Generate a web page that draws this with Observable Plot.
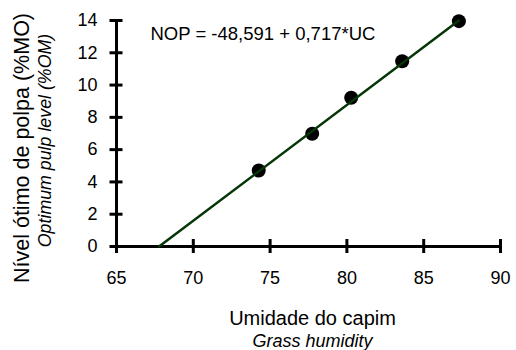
<!DOCTYPE html>
<html>
<head>
<meta charset="utf-8">
<script src="https://cdn.jsdelivr.net/npm/d3@7"></script>
<script src="https://cdn.jsdelivr.net/npm/@observablehq/plot@0.6"></script>
<style>
  html, body { margin: 0; padding: 0; background: #fff; }
  #chart svg { display: block; }
</style>
</head>
<body>
<div id="chart"></div>
<script>
// Data
const humidity = [74.26, 77.74, 80.28, 83.6, 87.29];   // Umidade do capim (%)
const pulpLevel = [4.71, 6.98, 9.21, 11.48, 13.96];    // Nível ótimo de polpa (%MO)
const intercept = -48.591;
const slope = 0.717;
const equationText = ["NOP = -48,591 + 0,717*UC"];
const xTicks = [65, 70, 75, 80, 85, 90];
const yTicks = [0, 2, 4, 6, 8, 10, 12, 14];
const xTitle = ["Umidade do capim"];
const xSubtitle = ["Grass humidity"];
const yTitle = ["Nível ótimo de polpa (%MO)"];
const ySubtitle = ["Optimum pulp level (%OM)"];

const points = humidity.map((h, i) => ({x: h, y: pulpLevel[i]}));
const xStart = -intercept / slope;
const xEnd = d3.max(humidity);
const fit = [xStart, xEnd].map(x => ({x, y: intercept + slope * x}));

const lineColor = "#063506";

const chart = Plot.plot({
  width: 516,
  height: 350,
  marginLeft: 116,
  marginRight: 16,
  marginTop: 20,
  marginBottom: 104,
  style: {fontFamily: "'Liberation Sans', Arial, sans-serif", background: "#fff", color: "#000", overflow: "visible"},
  x: {domain: [65, 90]},
  y: {domain: [0, 14]},
  marks: [
    // axis lines
    Plot.ruleY([0], {stroke: "#000", strokeWidth: 3}),
    Plot.ruleX([65], {stroke: "#000", strokeWidth: 3}),
    // crossing ticks
    Plot.ruleX(xTicks, {x: d => d, y1: 0, y2: 0, insetTop: -7, insetBottom: -7, stroke: "#000", strokeWidth: 3}),
    Plot.ruleY(yTicks, {y: d => d, x1: 65, x2: 65, insetLeft: -6.5, insetRight: -6.5, stroke: "#000", strokeWidth: 3}),
    // tick labels
    Plot.axisX(xTicks, {tickSize: 0, tickPadding: 25, fontSize: 18, label: null}),
    Plot.axisY(yTicks, {tickSize: 0, tickPadding: 19, fontSize: 18, label: null}),
    // data
    Plot.dot(points, {x: "x", y: "y", r: 7, fill: "#000", stroke: "none"}),
    Plot.line(fit, {x: "x", y: "y", stroke: lineColor, strokeWidth: 2.5}),
    // equation
    Plot.text(equationText, {frameAnchor: "top-left", text: d => d, textAnchor: "start", lineAnchor: "bottom", dx: 34, dy: 19.3, fontSize: 18.5}),
    // x titles
    Plot.text(xTitle, {frameAnchor: "bottom", text: d => d, textAnchor: "middle", lineAnchor: "bottom", dx: 4, dy: 78, fontSize: 20}),
    Plot.text(xSubtitle, {frameAnchor: "bottom", text: d => d, textAnchor: "middle", lineAnchor: "bottom", dx: 4, dy: 100, fontSize: 18, fontStyle: "italic"}),
    // y titles
    Plot.text(yTitle, {frameAnchor: "left", text: d => d, rotate: -90, textAnchor: "middle", lineAnchor: "bottom", dx: -88, dy: 14.5, fontSize: 21.5}),
    Plot.text(ySubtitle, {frameAnchor: "left", text: d => d, rotate: -90, textAnchor: "middle", lineAnchor: "bottom", dx: -66, dy: 7, fontSize: 17.8, fontStyle: "italic"})
  ]
});
document.getElementById("chart").appendChild(chart);
</script>
</body>
</html>
